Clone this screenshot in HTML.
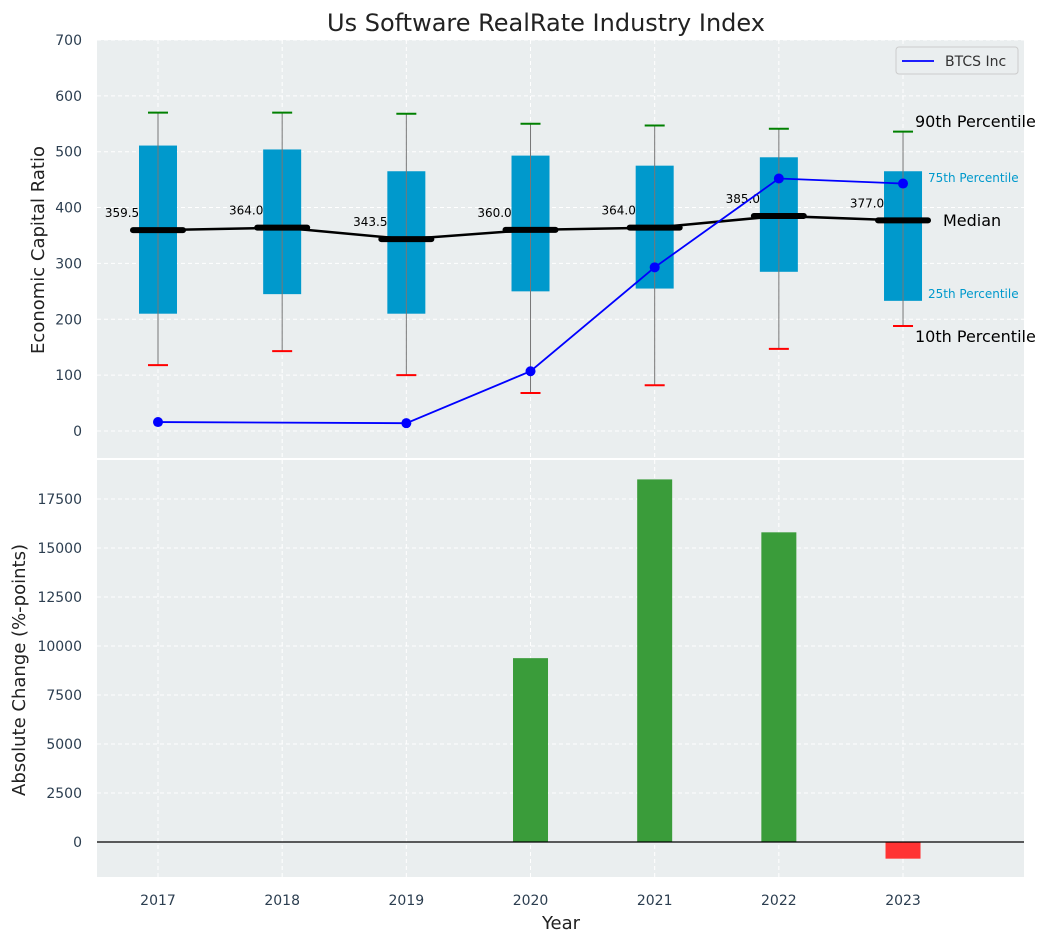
<!DOCTYPE html>
<html><head><meta charset="utf-8"><style>
body{margin:0;background:#fff;font-family:"Liberation Sans","DejaVu Sans",sans-serif}
svg text{font-family:"DejaVu Sans","Liberation Sans",sans-serif}
</style></head><body>
<svg id="c" width="1050" height="942" xmlns="http://www.w3.org/2000/svg"></svg>
<script>
const years=[2017,2018,2019,2020,2021,2022,2023];
const p10=[118,143,100,68,82,147,188];
const q1=[210,245,210,250,255,285,233];
const medians=[359.5,364,343.5,360,364,385,377];
const q3=[511,504,465,493,475,490,465];
const p90=[570,570,568,550,547,541,536];
const btcs=[16,null,14,107,293,452,443];
const changes=[0,0,0,9380,18500,15800,-850];
const topTicks=[0,100,200,300,400,500,600,700];
const botTicks=[0,2500,5000,7500,10000,12500,15000,17500];

const svg=document.getElementById('c');
const NS='http://www.w3.org/2000/svg';
function el(t,a,p){const e=document.createElementNS(NS,t);for(const k in a)e.setAttribute(k,a[k]);(p||svg).appendChild(e);return e;}
const L=97,R=1024;
const x=i=>158+i*124.17;
const yT=v=>431-v*0.5586;
const yB=v=>842-v*0.0196;

let bg=el('rect',{x:L,y:40,width:R-L,height:418,fill:'#eaeeef'});

let bg2=el('rect',{x:L,y:460,width:R-L,height:417,fill:'#eaeeef'});


topTicks.forEach(v=>{
  el('line',{x1:L,x2:R,y1:yT(v),y2:yT(v),stroke:'#fff','stroke-dasharray':'4,3','stroke-width':1});
  let t=el('text',{x:82,y:yT(v)+5,'text-anchor':'end','font-size':14,fill:'#2c3e50'});t.textContent=v;
  
});
botTicks.forEach(v=>{
  el('line',{x1:L,x2:R,y1:yB(v),y2:yB(v),stroke:'#fff','stroke-dasharray':'4,3','stroke-width':1});
  let t=el('text',{x:82,y:yB(v)+5,'text-anchor':'end','font-size':14,fill:'#2c3e50'});t.textContent=v;
  
});
years.forEach((yr,i)=>{
  el('line',{x1:x(i),x2:x(i),y1:40,y2:458,stroke:'#fff','stroke-dasharray':'4,3'});
  el('line',{x1:x(i),x2:x(i),y1:460,y2:877,stroke:'#fff','stroke-dasharray':'4,3'});
  let t=el('text',{x:x(i),y:905,'text-anchor':'middle','font-size':14,fill:'#2c3e50'});t.textContent=yr;
  
});

years.forEach((yr,i)=>{
  const cx=x(i);
  let b=el('rect',{x:cx-19,y:yT(q3[i]),width:38,height:yT(q1[i])-yT(q3[i]),fill:'#0099cc'});
  
  el('line',{x1:cx,x2:cx,y1:yT(p90[i]),y2:yT(p10[i]),stroke:'#777','stroke-width':1});
  el('line',{x1:cx-10,x2:cx+10,y1:yT(p90[i]),y2:yT(p90[i]),stroke:'green','stroke-width':2});
  el('line',{x1:cx-10,x2:cx+10,y1:yT(p10[i]),y2:yT(p10[i]),stroke:'red','stroke-width':2});
});
let mp=el('polyline',{points:medians.map((m,i)=>x(i)+','+yT(m)).join(' '),fill:'none',stroke:'#000','stroke-width':2.5});

medians.forEach((m,i)=>{
  el('line',{x1:x(i)-25,x2:x(i)+25,y1:yT(m),y2:yT(m),stroke:'#000','stroke-width':6,'stroke-linecap':'round'});
  let t=el('text',{x:x(i)-36,y:yT(m)-13,'text-anchor':'middle','font-size':12,fill:'#000'});t.textContent=m.toFixed(1);
  
});
const pts=[];btcs.forEach((v,i)=>{if(v!==null)pts.push([x(i),yT(v)]);});
let bl=el('polyline',{points:pts.map(p=>p.join(',')).join(' '),fill:'none',stroke:'#0000ff','stroke-width':1.8});

pts.forEach(p=>{let c=el('circle',{cx:p[0],cy:p[1],r:5,fill:'#0000ff'});
  });

const ann=[[915,127,'90th Percentile',16,'#000'],[928,182,'75th Percentile',12,'#0099cc'],[943,226,'Median',16,'#000'],[928,298,'25th Percentile',12,'#0099cc'],[915,342,'10th Percentile',16,'#000']];
ann.forEach(a=>{let t=el('text',{x:a[0],y:a[1],'font-size':a[3],fill:a[4]});t.textContent=a[2];
  });

let lg=el('g',{});
el('rect',{x:896,y:47,width:122,height:27,fill:'#eaeeef',stroke:'#ccc',rx:3},lg);
el('line',{x1:902,x2:934,y1:61,y2:61,stroke:'#0000ff','stroke-width':1.8},lg);
let lt=el('text',{x:945,y:66,'font-size':14,fill:'#333'},lg);lt.textContent='BTCS Inc';

changes.forEach((v,i)=>{
  if(v===0)return;
  const y0=yB(Math.max(v,0)),h=Math.abs(yB(v)-yB(0));
  let r=el('rect',{x:x(i)-17.5,y:y0,width:35,height:h,fill:v>=0?'#3a9c3a':'#ff3333'});
  
});
el('line',{x1:L,x2:R,y1:yB(0),y2:yB(0),stroke:'#000','stroke-width':1.2});

let ti=el('text',{x:546,y:31,'text-anchor':'middle','font-size':24,fill:'#222'});ti.textContent='Us Software RealRate Industry Index';

let yl=el('text',{x:0,y:0,'text-anchor':'middle','font-size':18,fill:'#222',transform:'translate(44,250) rotate(-90)'});yl.textContent='Economic Capital Ratio';

let yl2=el('text',{x:0,y:0,'text-anchor':'middle','font-size':18,fill:'#222',transform:'translate(25,670) rotate(-90)'});yl2.textContent='Absolute Change (%-points)';

let xl=el('text',{x:561,y:929,'text-anchor':'middle','font-size':18,fill:'#222'});xl.textContent='Year';

</script>
</body></html>
